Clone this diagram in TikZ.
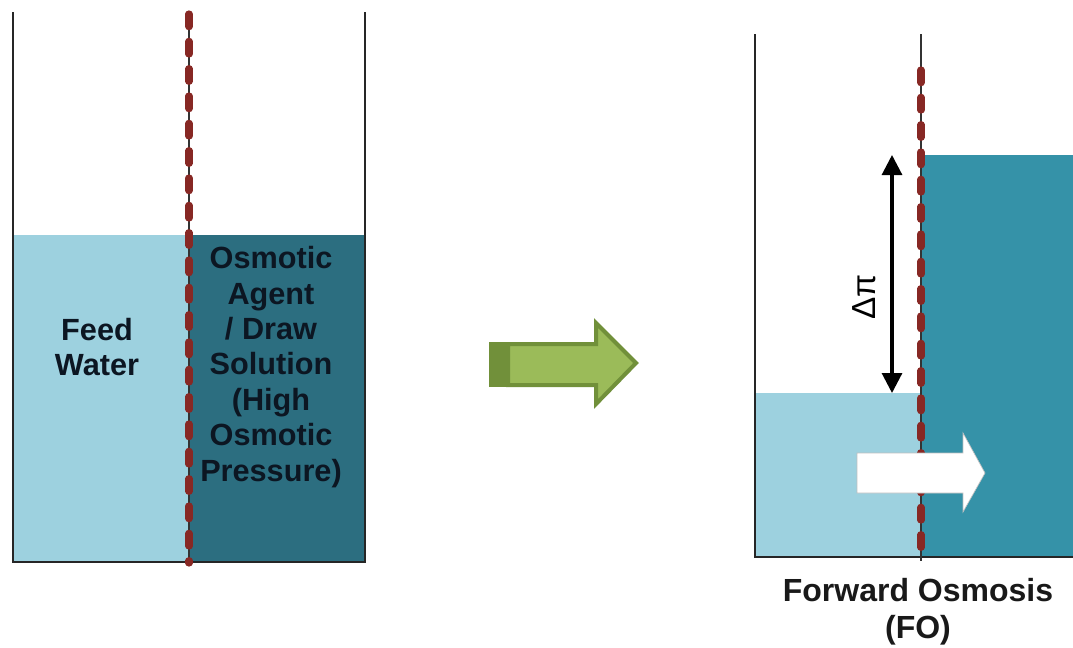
\documentclass[tikz,border=0pt]{standalone}
\usepackage{fontspec}
\setmainfont{Liberation Sans}
\usetikzlibrary{arrows.meta}
\definecolor{feedblue}{RGB}{157,209,223}
\definecolor{drawdark}{RGB}{44,110,128}
\definecolor{drawteal}{RGB}{53,146,168}
\definecolor{membred}{RGB}{135,40,36}
\definecolor{greenfill}{RGB}{155,187,89}
\definecolor{greenedge}{RGB}{113,144,58}
\definecolor{textdark}{RGB}{12,22,34}
\tikzset{
  wall/.style={draw=black!85, line width=1.6pt},
  membline/.style={draw=black!80, line width=1.1pt},
  membdash/.style={draw=membred, line width=5.4pt, line cap=round, dash pattern=on 9.5pt off 11pt},
  label/.style={font=\bfseries\fontsize{23}{26.6}\selectfont, align=center, text=textdark, inner sep=0pt},
}
\begin{document}
\begin{tikzpicture}[x=0.75pt,y=-0.75pt]
\useasboundingbox (0,0) rectangle (1073,647);
% ---------- left container ----------
\fill[feedblue] (13,235) rectangle (189,561);
\fill[drawdark] (189,235) rectangle (365,561);
\draw[wall] (13,12) -- (13,562) -- (365,562) -- (365,12);
\coordinate (m1top) at (189,14);
\coordinate (m1bot) at (189,563);
\draw[membline] (m1top) -- (m1bot);
\draw[membdash, dash phase=0pt] (m1top) -- (m1bot);
\node[label] (feed) at (97,347) {Feed\\Water};
\node[label] (agent) at (271,367) {Osmotic\\Agent\\/ Draw\\Solution\\(High\\Osmotic\\Pressure)};
% ---------- green arrow ----------
\fill[greenedge] (489,342) rectangle (508,387);
\draw[fill=greenfill, draw=greenedge, line width=3pt, line join=miter]
  (508,344) -- (596,344) -- (596,323) -- (636,363) -- (596,404) -- (596,385) -- (508,385) -- cycle;
% ---------- right container ----------
\fill[feedblue] (756,393) rectangle (921,557);
\fill[drawteal] (921,155) rectangle (1073,557);
\draw[wall] (755,34) -- (755,557) -- (1073,557);
\coordinate (m2top) at (921,34);
\coordinate (m2bot) at (921,561);
\draw[membline] (m2top) -- (m2bot);
\draw[membdash, dash phase=-6pt] (921,62) -- (m2bot);
% delta pi arrow
\coordinate (dtop) at (892,155);
\coordinate (dbot) at (892,393);
\draw[line width=2.3pt, {Triangle[length=15pt,width=15pt]}-{Triangle[length=15pt,width=15pt]}] (dtop) -- (dbot);
\node[rotate=90, font=\fontsize{25}{30}\selectfont, inner sep=0pt] (dpi) at (864,297) {Δπ};
% white flux arrow
\draw[fill=white, draw=black!25, line width=0.5pt]
  (857,453) -- (963,453) -- (963,433) -- (985,473) -- (963,512) -- (963,493) -- (857,493) -- cycle;
\node[label, text=black!90, font=\bfseries\fontsize{24}{27.7}\selectfont] (fo) at (918,612) {Forward Osmosis\\(FO)};
\end{tikzpicture}
\end{document}
